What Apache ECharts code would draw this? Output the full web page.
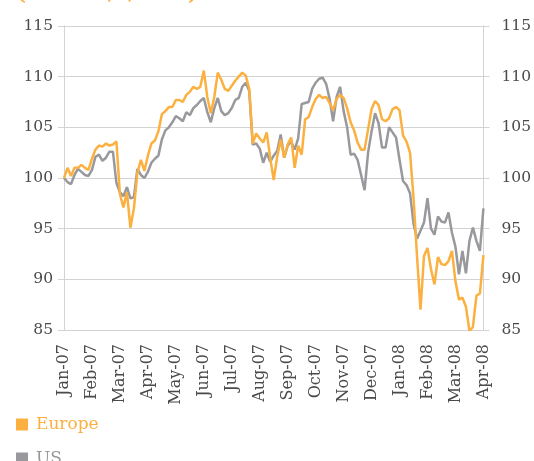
<!DOCTYPE html>
<html>
<head>
<meta charset="utf-8">
<script src="https://cdn.jsdelivr.net/npm/echarts@6/dist/echarts.min.js"></script>
<style>
  html, body { margin: 0; padding: 0; background: #fff; }
  #main { width: 534px; height: 461px; }
</style>
</head>
<body>
<div id="main"></div>
<script>
// month labels on the x axis, 8 samples per month
var months = ['Jan-07', 'Feb-07', 'Mar-07', 'Apr-07', 'May-07', 'Jun-07', 'Jul-07', 'Aug-07',
  'Sep-07', 'Oct-07', 'Nov-07', 'Dec-07', 'Jan-08', 'Feb-08', 'Mar-08', 'Apr-08'];
var perMonth = 8;
var yTicks = [85, 90, 95, 100, 105, 110, 115];

// index, 100 = 1/1/2007
var europe = [
  100.0, 101.0, 100.2, 101.0, 101.0, 101.3, 101.0, 100.8,
  101.9, 102.8, 103.2, 103.1, 103.4, 103.2, 103.3, 103.6,
  98.4, 97.1, 98.6, 95.1, 97.0, 100.5, 101.8, 100.7,
  102.2, 103.4, 103.7, 104.6, 106.3, 106.6, 107.0, 107.0,
  107.7, 107.7, 107.5, 108.2, 108.5, 109.0, 108.8, 109.0,
  110.6, 108.0, 106.4, 108.0, 110.4, 109.7, 108.8, 108.6,
  109.1, 109.6, 110.0, 110.4, 110.1, 108.8, 103.4, 104.4,
  103.9, 103.5, 104.5, 102.0, 99.8, 102.1, 103.8, 102.0,
  103.3, 104.0, 101.0, 103.2, 102.3, 105.8, 106.0, 107.0,
  107.8, 108.2, 107.9, 108.0, 107.4, 106.7, 107.8, 108.2,
  107.9, 106.9, 105.5, 104.7, 103.5, 102.8, 102.8, 104.8,
  106.8, 107.6, 107.2, 105.8, 105.6, 105.9, 106.8, 107.0,
  106.7, 104.2, 103.6, 102.5, 98.1, 92.3, 87.0, 92.3,
  93.1, 91.0, 89.5, 92.2, 91.5, 91.4, 91.8, 92.8,
  89.8, 88.0, 88.2, 87.3, 84.9, 85.3, 88.4, 88.6,
  92.4
];
var us = [
  100.0, 99.6, 99.4, 100.3, 100.9, 100.6, 100.3, 100.2,
  100.8, 102.1, 102.3, 101.7, 102.0, 102.6, 102.6, 99.5,
  98.6, 98.2, 99.1, 98.0, 98.1, 100.9, 100.3, 100.0,
  100.6, 101.5, 101.9, 102.2, 103.8, 104.7, 105.0, 105.5,
  106.1, 105.9, 105.6, 106.5, 106.2, 106.9, 107.2, 107.6,
  107.9, 106.5, 105.5, 106.9, 107.9, 106.6, 106.2, 106.4,
  106.9, 107.7, 107.9, 109.0, 109.4, 108.6, 103.3, 103.4,
  102.9, 101.5, 102.5, 101.6, 102.2, 102.7, 104.3, 102.0,
  103.2, 103.6, 102.8, 103.9, 107.3, 107.4, 107.5, 108.8,
  109.4, 109.8, 109.9, 109.3, 107.8, 105.6, 108.0, 109.0,
  106.6, 105.0, 102.3, 102.4, 101.8, 100.3, 98.8, 102.5,
  104.6, 106.4, 105.4, 103.0, 103.0, 105.0, 104.5, 104.0,
  101.8, 99.7, 99.3, 98.5, 95.5, 94.0, 94.8, 95.6,
  98.0, 95.0, 94.4, 96.2, 95.7, 95.6, 96.6, 94.6,
  93.2, 90.5, 92.8, 90.6, 93.8, 95.1, 93.8, 92.8,
  97.0
];

var orange = '#fbb03f';
var grey = '#99999d';
var serif = '"DejaVu Serif", serif';

var chart = echarts.init(document.getElementById('main'), null, { renderer: 'canvas' });

function yAxis(pos, margin, grid) {
  return {
    type: 'value',
    position: pos,
    min: yTicks[0],
    max: yTicks[yTicks.length - 1],
    interval: 5,
    axisLine: { show: true, lineStyle: { color: '#d3d3d3', width: 1 } },
    axisTick: { show: true, length: 6, lineStyle: { color: '#d3d3d3' } },
    axisLabel: { margin: margin, color: '#4a4a4a', fontFamily: serif, fontSize: 15.5 },
    splitLine: { show: grid, lineStyle: { color: '#d3d3d3', width: 1 } }
  };
}

var option = {
  animation: false,
  backgroundColor: '#fff',
  graphic: [{
    type: 'text',
    left: 17,
    top: -14,
    style: { text: '(100 = 1/1/2007)', fill: orange, font: 'bold 19px ' + serif }
  }],
  grid: { left: 64, right: 50, top: 26, bottom: 131 },
  legend: {
    orient: 'vertical',
    left: 11,
    top: 411,
    height: 120,
    itemWidth: 12,
    itemHeight: 12,
    itemGap: 17,
    icon: 'rect',
    textStyle: { fontFamily: serif, fontSize: 17, padding: [0, 0, 0, 3] },
    data: [
      { name: 'Europe', textStyle: { color: orange } },
      { name: 'US', textStyle: { color: grey } }
    ]
  },
  xAxis: {
    type: 'value',
    min: 0,
    max: (months.length - 1) * perMonth,
    interval: perMonth,
    axisLine: { show: true, lineStyle: { color: '#d3d3d3' } },
    axisTick: { show: false },
    splitLine: { show: false },
    axisLabel: {
      rotate: 90,
      margin: 14,
      color: '#4a4a4a',
      fontFamily: serif,
      fontSize: 16,
      formatter: function (v) { return months[Math.round(v / perMonth)]; }
    }
  },
  yAxis: [yAxis('left', 11, true), yAxis('right', 18, false)],
  series: [
    {
      name: 'US',
      type: 'line',
      showSymbol: false,
      lineStyle: { color: grey, width: 2.5 },
      itemStyle: { color: grey },
      data: us.map(function (v, i) { return [i, v]; })
    },
    {
      name: 'Europe',
      type: 'line',
      showSymbol: false,
      lineStyle: { color: orange, width: 2.5 },
      itemStyle: { color: orange },
      data: europe.map(function (v, i) { return [i, v]; })
    }
  ]
};

chart.setOption(option);
</script>
</body>
</html>
